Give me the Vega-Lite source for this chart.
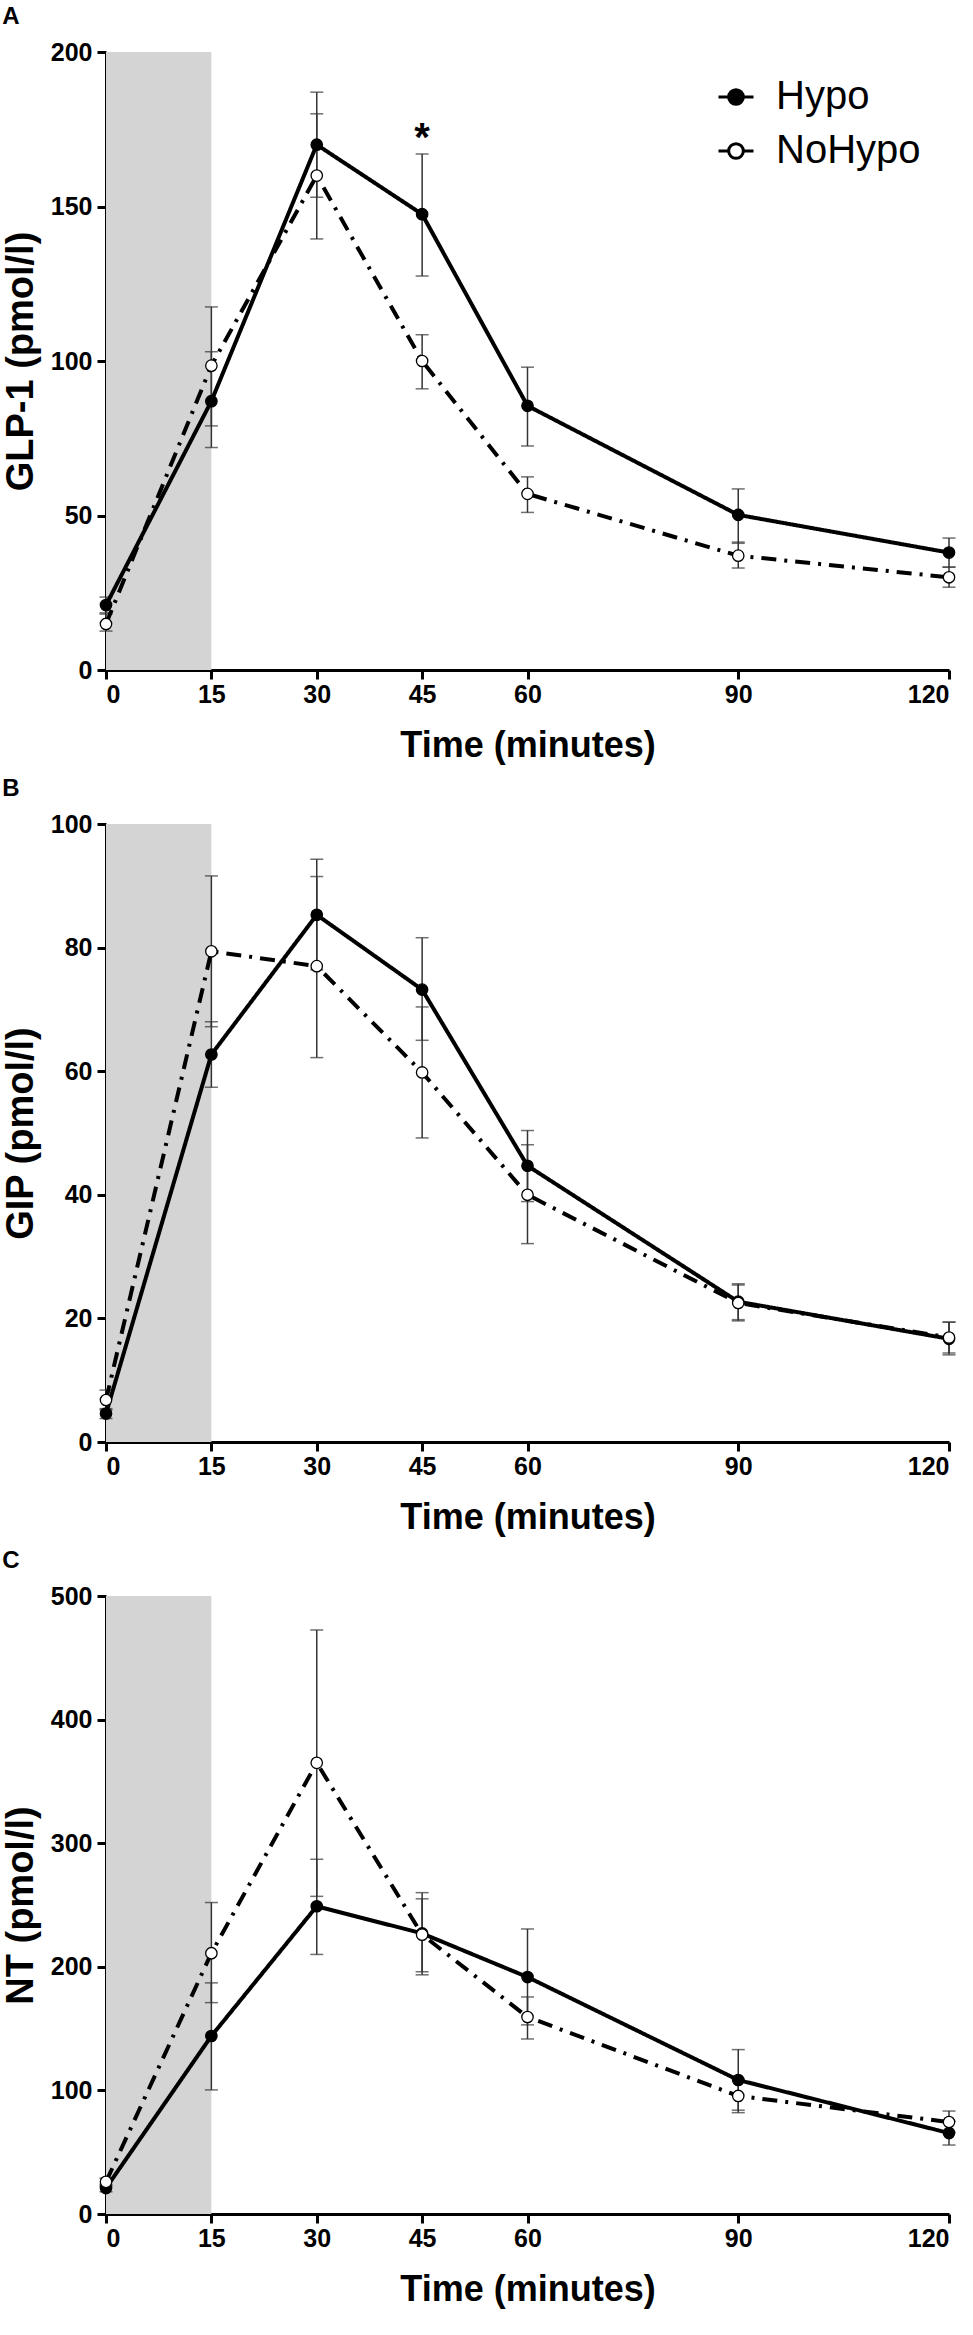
{
  "$schema": "https://vega.github.io/schema/vega-lite/v6.json",
  "padding": {"left": 2, "top": 5, "right": 5, "bottom": 5},
  "config": {
    "view": {"stroke": null},
    "font": "Liberation Sans",
    "axis": {
      "grid": false,
      "domainColor": "black",
      "domainWidth": 3,
      "tickColor": "black",
      "tickWidth": 3,
      "tickSize": 9,
      "labelFont": "Liberation Sans",
      "labelFontSize": 25,
      "labelFontWeight": "bold",
      "labelColor": "black",
      "titleFont": "Liberation Sans",
      "titleFontWeight": "bold",
      "titleColor": "black"
    },
    "title": {
      "anchor": "start",
      "frame": "bounds",
      "font": "Liberation Sans",
      "fontSize": 24,
      "fontWeight": "bold",
      "color": "black",
      "offset": 11
    }
  },
  "datasets": {
    "glp1": [
      {"t": 0, "group": "Hypo", "mean": 21, "lo": 18.5, "hi": 23.6},
      {"t": 15, "group": "Hypo", "mean": 87, "lo": 72, "hi": 103},
      {"t": 30, "group": "Hypo", "mean": 170, "lo": 153, "hi": 187},
      {"t": 45, "group": "Hypo", "mean": 147.5, "lo": 127.5, "hi": 167},
      {"t": 60, "group": "Hypo", "mean": 85.5, "lo": 72.5, "hi": 98},
      {"t": 90, "group": "Hypo", "mean": 50.2, "lo": 41, "hi": 58.6},
      {"t": 120, "group": "Hypo", "mean": 38, "lo": 33.3, "hi": 42.7},
      {"t": 0, "group": "NoHypo", "mean": 14.9, "lo": 12.6, "hi": 18.1},
      {"t": 15, "group": "NoHypo", "mean": 98.5, "lo": 79, "hi": 117.5},
      {"t": 30, "group": "NoHypo", "mean": 160, "lo": 139.5, "hi": 180},
      {"t": 45, "group": "NoHypo", "mean": 100, "lo": 91, "hi": 108.5},
      {"t": 60, "group": "NoHypo", "mean": 57, "lo": 51, "hi": 62.5},
      {"t": 90, "group": "NoHypo", "mean": 37, "lo": 33, "hi": 41.4},
      {"t": 120, "group": "NoHypo", "mean": 30, "lo": 26.8, "hi": 33.3}
    ],
    "gip": [
      {"t": 0, "group": "Hypo", "mean": 4.6, "lo": 3.8, "hi": 5.4},
      {"t": 15, "group": "Hypo", "mean": 62.7, "lo": 57.4, "hi": 68},
      {"t": 30, "group": "Hypo", "mean": 85.3, "lo": 76.4, "hi": 94.3},
      {"t": 45, "group": "Hypo", "mean": 73.2, "lo": 65, "hi": 81.6},
      {"t": 60, "group": "Hypo", "mean": 44.7, "lo": 38.9, "hi": 50.4},
      {"t": 90, "group": "Hypo", "mean": 22.7, "lo": 19.6, "hi": 25.6},
      {"t": 120, "group": "Hypo", "mean": 16.7, "lo": 14.1, "hi": 19.4},
      {"t": 0, "group": "NoHypo", "mean": 6.8, "lo": 5.2, "hi": 8.4},
      {"t": 15, "group": "NoHypo", "mean": 79.4, "lo": 67.2, "hi": 91.6},
      {"t": 30, "group": "NoHypo", "mean": 77, "lo": 62.2, "hi": 91.5},
      {"t": 45, "group": "NoHypo", "mean": 59.8, "lo": 49.2, "hi": 70.4},
      {"t": 60, "group": "NoHypo", "mean": 40, "lo": 32.1, "hi": 48.1},
      {"t": 90, "group": "NoHypo", "mean": 22.5, "lo": 19.8, "hi": 25.4},
      {"t": 120, "group": "NoHypo", "mean": 16.9, "lo": 14.4, "hi": 19.4}
    ],
    "nt": [
      {"t": 0, "group": "Hypo", "mean": 21, "lo": 18, "hi": 24},
      {"t": 15, "group": "Hypo", "mean": 144, "lo": 100.4, "hi": 187},
      {"t": 30, "group": "Hypo", "mean": 249, "lo": 210, "hi": 287},
      {"t": 45, "group": "Hypo", "mean": 227, "lo": 193.5, "hi": 260},
      {"t": 60, "group": "Hypo", "mean": 191.7, "lo": 153, "hi": 230.6},
      {"t": 90, "group": "Hypo", "mean": 108.4, "lo": 84, "hi": 133},
      {"t": 120, "group": "Hypo", "mean": 65.5, "lo": 55.8, "hi": 75},
      {"t": 0, "group": "NoHypo", "mean": 26, "lo": 23, "hi": 29},
      {"t": 15, "group": "NoHypo", "mean": 211, "lo": 171, "hi": 252},
      {"t": 30, "group": "NoHypo", "mean": 365, "lo": 257, "hi": 472.5},
      {"t": 45, "group": "NoHypo", "mean": 226, "lo": 196, "hi": 255},
      {"t": 60, "group": "NoHypo", "mean": 159.4, "lo": 141.6, "hi": 175.6},
      {"t": 90, "group": "NoHypo", "mean": 95.5, "lo": 82, "hi": 109},
      {"t": 120, "group": "NoHypo", "mean": 74.4, "lo": 66, "hi": 83.3}
    ],
    "meal": [
      {"t": 0, "t2": 15}
    ],
    "signif": [
      {"t": 45, "mean": 168, "label": "*"}
    ]
  },
  "spacing": 14,
  "vconcat": [
    {
      "title": "A",
      "width": 843,
      "height": 618,
      "encoding": {
        "x": {
          "field": "t",
          "type": "quantitative",
          "scale": {"domain": [0, 120], "nice": false},
          "axis": {"values": [0, 15, 30, 45, 60, 90, 120], "title": "Time (minutes)", "titleFontSize": 36, "labelPadding": 3, "titlePadding": 21}
        }
      },
      "layer": [
        {
          "data": {"name": "meal"},
          "mark": {"type": "rect", "color": "#d4d4d4"},
          "encoding": {"x2": {"field": "t2"}}
        },
        {
          "data": {"name": "glp1"},
          "mark": {"type": "errorbar", "ticks": true, "color": "#333333", "thickness": 1.5, "size": 13},
          "encoding": {
            "y": {"field": "lo", "type": "quantitative", "title": "GLP-1 (pmol/l)", "scale": {"domain": [0, 200], "nice": false}},
            "y2": {"field": "hi"}
          }
        },
        {
          "data": {"name": "glp1"},
          "mark": {"type": "line", "color": "black", "strokeWidth": 4},
          "encoding": {
            "y": {"field": "mean", "type": "quantitative", "title": "GLP-1 (pmol/l)", "scale": {"domain": [0, 200], "nice": false},
              "axis": {"values": [0, 50, 100, 150, 200], "labelPadding": 5, "titleFontSize": 38, "titlePadding": 10}},
            "detail": {"field": "group"},
            "strokeDash": {"condition": {"test": "datum.group === 'Hypo'", "value": [1, 0]}, "value": [15, 8, 3, 8]}
          }
        },
        {
          "data": {"name": "glp1"},
          "mark": {"type": "circle", "size": 130, "stroke": "black", "strokeWidth": 1.3, "opacity": 1},
          "encoding": {
            "y": {"field": "mean", "type": "quantitative", "title": "GLP-1 (pmol/l)"},
            "fill": {
              "field": "group",
              "type": "nominal",
              "scale": {"domain": ["Hypo", "NoHypo"], "range": ["black", "white"]},
              "legend": {
                "orient": "none",
                "legendX": 610,
                "legendY": 25,
                "title": null,
                "padding": 0,
                "symbolType": "M-1,0L-0.42,0M0.42,0L1,0M0.42,0A0.42,0.42,0,1,1,-0.42,0A0.42,0.42,0,1,1,0.42,0Z",
                "symbolSize": 1225,
                "symbolStrokeColor": "black",
                "symbolStrokeWidth": 3,
                "labelFont": "Liberation Sans",
                "labelFontSize": 40,
                "labelFontWeight": "normal",
                "labelColor": "black",
                "labelOffset": 20,
                "rowPadding": 14
              }
            }
          }
        },
        {
          "data": {"name": "signif"},
          "mark": {"type": "text", "fontSize": 40, "fontWeight": "bold", "baseline": "alphabetic", "color": "black"},
          "encoding": {
            "y": {"field": "mean", "type": "quantitative", "title": "GLP-1 (pmol/l)"},
            "text": {"field": "label"}
          }
        }
      ]
    },
    {
      "title": "B",
      "width": 843,
      "height": 618,
      "encoding": {
        "x": {
          "field": "t",
          "type": "quantitative",
          "scale": {"domain": [0, 120], "nice": false},
          "axis": {"values": [0, 15, 30, 45, 60, 90, 120], "title": "Time (minutes)", "titleFontSize": 36, "labelPadding": 3, "titlePadding": 21}
        }
      },
      "layer": [
        {
          "data": {"name": "meal"},
          "mark": {"type": "rect", "color": "#d4d4d4"},
          "encoding": {"x2": {"field": "t2"}}
        },
        {
          "data": {"name": "gip"},
          "mark": {"type": "errorbar", "ticks": true, "color": "#333333", "thickness": 1.5, "size": 13},
          "encoding": {
            "y": {"field": "lo", "type": "quantitative", "title": "GIP (pmol/l)", "scale": {"domain": [0, 100], "nice": false}},
            "y2": {"field": "hi"}
          }
        },
        {
          "data": {"name": "gip"},
          "mark": {"type": "line", "color": "black", "strokeWidth": 4},
          "encoding": {
            "y": {"field": "mean", "type": "quantitative", "title": "GIP (pmol/l)", "scale": {"domain": [0, 100], "nice": false},
              "axis": {"values": [0, 20, 40, 60, 80, 100], "labelPadding": 5, "titleFontSize": 38, "titlePadding": 10}},
            "detail": {"field": "group"},
            "strokeDash": {"condition": {"test": "datum.group === 'Hypo'", "value": [1, 0]}, "value": [15, 8, 3, 8]}
          }
        },
        {
          "data": {"name": "gip"},
          "mark": {"type": "circle", "size": 130, "stroke": "black", "strokeWidth": 1.3, "opacity": 1},
          "encoding": {
            "y": {"field": "mean", "type": "quantitative", "title": "GIP (pmol/l)"},
            "fill": {"condition": {"test": "datum.group === 'Hypo'", "value": "black"}, "value": "white"}
          }
        }
      ]
    },
    {
      "title": "C",
      "width": 843,
      "height": 618,
      "encoding": {
        "x": {
          "field": "t",
          "type": "quantitative",
          "scale": {"domain": [0, 120], "nice": false},
          "axis": {"values": [0, 15, 30, 45, 60, 90, 120], "title": "Time (minutes)", "titleFontSize": 36, "labelPadding": 3, "titlePadding": 21}
        }
      },
      "layer": [
        {
          "data": {"name": "meal"},
          "mark": {"type": "rect", "color": "#d4d4d4"},
          "encoding": {"x2": {"field": "t2"}}
        },
        {
          "data": {"name": "nt"},
          "mark": {"type": "errorbar", "ticks": true, "color": "#333333", "thickness": 1.5, "size": 13},
          "encoding": {
            "y": {"field": "lo", "type": "quantitative", "title": "NT (pmol/l)", "scale": {"domain": [0, 500], "nice": false}},
            "y2": {"field": "hi"}
          }
        },
        {
          "data": {"name": "nt"},
          "mark": {"type": "line", "color": "black", "strokeWidth": 4},
          "encoding": {
            "y": {"field": "mean", "type": "quantitative", "title": "NT (pmol/l)", "scale": {"domain": [0, 500], "nice": false},
              "axis": {"values": [0, 100, 200, 300, 400, 500], "labelPadding": 5, "titleFontSize": 38, "titlePadding": 10}},
            "detail": {"field": "group"},
            "strokeDash": {"condition": {"test": "datum.group === 'Hypo'", "value": [1, 0]}, "value": [15, 8, 3, 8]}
          }
        },
        {
          "data": {"name": "nt"},
          "mark": {"type": "circle", "size": 130, "stroke": "black", "strokeWidth": 1.3, "opacity": 1},
          "encoding": {
            "y": {"field": "mean", "type": "quantitative", "title": "NT (pmol/l)"},
            "fill": {"condition": {"test": "datum.group === 'Hypo'", "value": "black"}, "value": "white"}
          }
        }
      ]
    }
  ]
}
